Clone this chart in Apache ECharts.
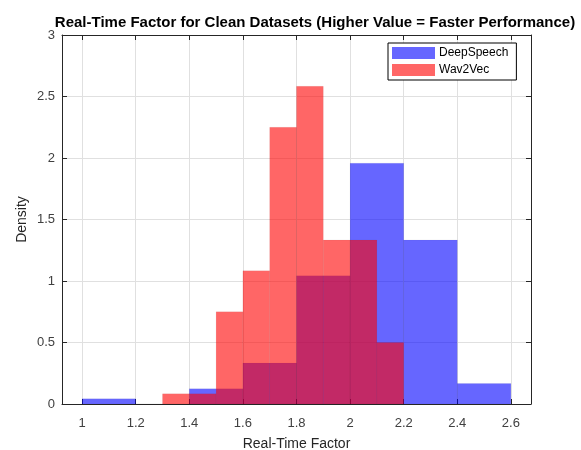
<!DOCTYPE html>
<html>
<head>
<meta charset="utf-8">
<script src="https://cdn.jsdelivr.net/npm/echarts@6/dist/echarts.min.js"></script>
<style>
  html, body { margin: 0; padding: 0; background: #fff; }
  #chart { width: 581px; height: 450px; }
</style>
</head>
<body>
<div id="chart"></div>
<script>
// Histogram bins (density)
const deepEdges = [1.0, 1.2, 1.4, 1.6, 1.8, 2.0, 2.2, 2.4, 2.6];
const deepDensity = [0.0417, 0, 0.125, 0.3333, 1.0417, 1.9583, 1.3333, 0.1667];

const wavEdges = [1.3, 1.4, 1.5, 1.6, 1.7, 1.8, 1.9, 2.0, 2.1, 2.2];
const wavDensity = [0.0833, 0.0833, 0.75, 1.0833, 2.25, 2.5833, 1.3333, 1.3333, 0.5];

const xTicks = [1, 1.2, 1.4, 1.6, 1.8, 2, 2.2, 2.4, 2.6];

function toBins(edges, dens) {
  return dens.map((d, i) => [edges[i], edges[i + 1], d]);
}

const chart = echarts.init(document.getElementById('chart'));
const font = '"Liberation Sans", Arial, Helvetica, sans-serif';
const axisCol = '#262626';

function renderBar(params, api) {
  const p0 = api.coord([api.value(0), api.value(2)]);
  const p1 = api.coord([api.value(1), 0]);
  return {
    type: 'rect',
    shape: { x: p0[0], y: p0[1], width: p1[0] - p0[0], height: p1[1] - p0[1] },
    style: { fill: api.visual('color'), stroke: 'rgba(0,0,0,0.08)', lineWidth: 0.5 }
  };
}

const tickCommon = { show: true, inside: true, length: 5, lineStyle: { color: axisCol } };

chart.setOption({
  animation: false,
  title: {
    text: 'Real-Time Factor for Clean Datasets (Higher Value = Faster Performance)',
    left: 310,
    top: 10,
    textAlign: 'center',
    textStyle: { fontFamily: font, fontSize: 15, fontWeight: 'bold', color: '#000' }
  },
  legend: {
    orient: 'vertical',
    left: 388,
    top: 43,
    icon: 'rect',
    itemWidth: 43,
    itemHeight: 12,
    itemGap: 5,
    padding: [4, 8, 4, 4],
    borderColor: '#000',
    borderWidth: 1,
    backgroundColor: '#fff',
    textStyle: { fontFamily: font, fontSize: 12, color: '#000', padding: [0, 0, 0, -1] },
    data: ['DeepSpeech', 'Wav2Vec']
  },
  grid: { left: 62, right: 50, top: 35, bottom: 46, containLabel: false, outerBoundsMode: 'none' },
  xAxis: [
    {
      type: 'value',
      min: 0.925,
      max: 2.675,
      name: 'Real-Time Factor',
      nameLocation: 'middle',
      nameGap: 33,
      nameMoveOverlap: false,
      nameTextStyle: { fontFamily: font, fontSize: 14, color: axisCol },
      axisLine: { show: true, lineStyle: { color: axisCol } },
      axisTick: Object.assign({ customValues: xTicks }, tickCommon),
      axisLabel: { customValues: xTicks, fontFamily: font, fontSize: 13, color: '#404040', margin: 13 },
      splitLine: { show: true, lineStyle: { color: '#e0e0e0' } }
    },
    {
      type: 'value',
      position: 'top',
      min: 0.925,
      max: 2.675,
      axisLine: { show: true, onZero: false, lineStyle: { color: axisCol } },
      axisTick: Object.assign({ customValues: xTicks }, tickCommon),
      axisLabel: { show: false },
      splitLine: { show: false }
    }
  ],
  yAxis: [
    {
      type: 'value',
      min: 0,
      max: 3,
      interval: 0.5,
      name: 'Density',
      nameLocation: 'middle',
      nameGap: 40,
      nameRotate: 90,
      nameMoveOverlap: false,
      nameTextStyle: { fontFamily: font, fontSize: 14, color: axisCol, verticalAlign: 'middle' },
      axisLine: { show: true, lineStyle: { color: axisCol } },
      axisTick: tickCommon,
      axisLabel: { fontFamily: font, fontSize: 13, color: '#404040', margin: 7 },
      splitLine: { show: true, lineStyle: { color: '#e0e0e0' } }
    },
    {
      type: 'value',
      position: 'right',
      min: 0,
      max: 3,
      interval: 0.5,
      axisLine: { show: true, onZero: false, lineStyle: { color: axisCol } },
      axisTick: tickCommon,
      axisLabel: { show: false },
      splitLine: { show: false }
    }
  ],
  series: [
    {
      name: 'DeepSpeech',
      type: 'custom',
      renderItem: renderBar,
      itemStyle: { color: 'rgba(0,0,255,0.6)' },
      encode: { x: [0, 1], y: 2 },
      data: toBins(deepEdges, deepDensity),
      z: 2
    },
    {
      name: 'Wav2Vec',
      type: 'custom',
      renderItem: renderBar,
      itemStyle: { color: 'rgba(255,0,0,0.6)' },
      encode: { x: [0, 1], y: 2 },
      data: toBins(wavEdges, wavDensity),
      z: 3
    }
  ]
});
</script>
</body>
</html>
